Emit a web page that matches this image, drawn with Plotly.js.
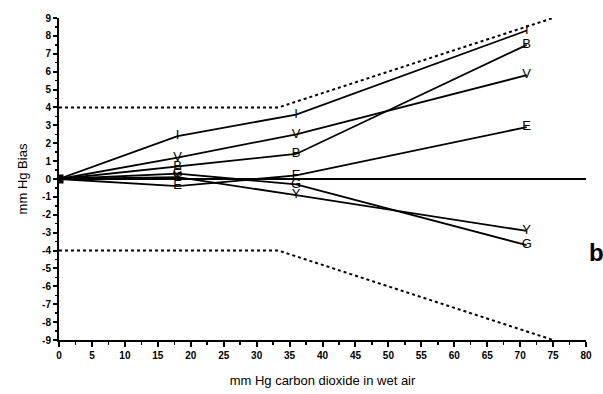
<!DOCTYPE html>
<html>
<head>
<meta charset="utf-8">
<script src="https://cdn.plot.ly/plotly-3.0.1.min.js"></script>
<style>html,body{margin:0;padding:0;background:#fff;}#chart{width:603px;height:394px;}</style>
</head>
<body>
<div id="chart"></div>
<script>
// CO2 levels (mm Hg) at which each monitor was tested
const co2 = [0, 18, 36, 71];
const seriesNames = ["I", "B", "V", "E", "Y", "G"];
const biasI = [0, 2.4, 3.6, 8.3];
const biasB = [0, 0.7, 1.4, 7.5];
const biasV = [0, 1.2, 2.5, 5.8];
const biasE = [0, -0.4, 0.2, 2.9];
const biasY = [0, 0.1, -0.9, -2.9];
const biasG = [0, 0.3, -0.3, -3.7];
// Acceptance limits: +/- 4 mm Hg or +/- 12 %
const limitX = [0, 33.3, 75];
const limitUpper = [4, 4, 9];
const limitLower = [-4, -4, -9];
const xTicks = [0,5,10,15,20,25,30,35,40,45,50,55,60,65,70,75,80];
const yTicks = [9,8,7,6,5,4,3,2,1,0,-1,-2,-3,-4,-5,-6,-7,-8,-9];

const allBias = [biasI, biasB, biasV, biasE, biasY, biasG];
const traces = [];
traces.push({x: limitX, y: limitUpper, mode: 'lines', line: {color: '#000', width: 2, dash: 'dot'}, hoverinfo: 'skip'});
traces.push({x: limitX, y: limitLower, mode: 'lines', line: {color: '#000', width: 2, dash: 'dot'}, hoverinfo: 'skip'});
allBias.forEach((vals, i) => {
  traces.push({
    x: co2, y: vals, mode: 'lines+text',
    text: co2.map((c, j) => j === 0 ? '' : seriesNames[i]),
    textposition: 'middle center',
    textfont: {family: 'Liberation Sans, Arial, sans-serif', size: 13, color: '#000'},
    line: {color: '#000', width: 1.8},
    cliponaxis: false
  });
});
traces.push({x: [co2[0]], y: [0], mode: 'markers', marker: {symbol: 'square', size: 9, color: '#000'}});

const layout = {
  width: 603, height: 394,
  margin: {l: 59, r: 17, t: 18, b: 54},
  paper_bgcolor: '#fff', plot_bgcolor: '#fff',
  showlegend: false,
  font: {family: 'Liberation Sans, Arial, sans-serif', color: '#000'},
  xaxis: {
    range: [0, 80], tickvals: xTicks, ticktext: xTicks.map(String),
    showgrid: false, zeroline: false, showline: true, linecolor: '#000', linewidth: 2,
    ticks: 'outside', ticklen: 5, tickwidth: 2, tickcolor: '#000',
    minor: {dtick: 2.5, tick0: 0, ticks: 'outside', ticklen: 3, tickwidth: 1.5, tickcolor: '#000'},
    tickfont: {size: 10, weight: 700, family: 'Liberation Sans, Arial, sans-serif'},
    title: {text: 'mm Hg carbon dioxide in wet air', font: {size: 13}, standoff: 16}
  },
  yaxis: {
    range: [-9, 9], tickvals: yTicks, ticktext: yTicks.map(String),
    showgrid: false, zeroline: true, zerolinecolor: '#000', zerolinewidth: 1.8,
    showline: true, linecolor: '#000', linewidth: 2,
    ticks: 'outside', ticklen: 4, tickwidth: 2, tickcolor: '#000',
    minor: {dtick: 0.5, tick0: 0, ticks: 'outside', ticklen: 2, tickwidth: 1.5, tickcolor: '#000'},
    tickfont: {size: 10, weight: 700, family: 'Liberation Sans, Arial, sans-serif'},
    title: {text: 'mm Hg Bias', font: {size: 13}, standoff: 12}
  },
  annotations: [{
    text: 'b', xref: 'paper', yref: 'paper', x: 1.019, y: 0.273, xanchor: 'center', yanchor: 'middle',
    showarrow: false, font: {size: 24, weight: 700, color: '#000'}
  }]
};
Plotly.newPlot('chart', traces, layout, {displayModeBar: false, staticPlot: true});
</script>
</body>
</html>
